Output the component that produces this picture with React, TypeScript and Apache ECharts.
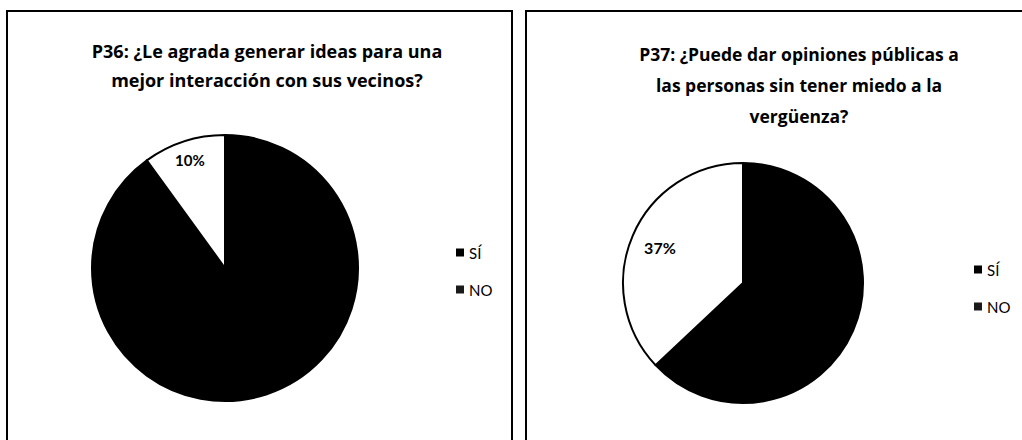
import React, { useEffect, useRef } from "react";
import * as echarts from "echarts";

const categories = ["SÍ", "NO"];
const p36Values = [90, 10];
const p37Values = [63, 37];
const titles = [
  "P36: ¿Le agrada generar ideas para una\nmejor interacción con sus vecinos?",
  "P37: ¿Puede dar opiniones públicas a\nlas personas sin tener miedo a la\nvergüenza?",
];
const sliceColors = ["#000000", "#ffffff"];
const legendIconColors = ["#000000", "#1a1a1a"];

const FONT = "Lato, 'Open Sans', sans-serif";
const TITLE_FONT = "'Open Sans', Lato, sans-serif";

function makeData(values: number[]) {
  return categories.map((name, i) => ({
    name,
    value: values[i],
    itemStyle: { color: sliceColors[i] },
  }));
}

function pieSeries(values: number[], center: number[], r: number, labelR0: number, fontSize: number) {
  const base = makeData(values);
  return [
    {
      type: "pie",
      center,
      radius: [0, r],
      startAngle: 90,
      clockwise: true,
      data: base,
      label: { show: false },
      labelLine: { show: false },
      itemStyle: { borderColor: "#000", borderWidth: 2 },
      emphasis: { disabled: true },
      silent: true,
    },
    {
      type: "pie",
      center,
      radius: [labelR0, r],
      startAngle: 90,
      clockwise: true,
      silent: true,
      emphasis: { disabled: true },
      legendHoverLink: false,
      data: base.map((d, i) => ({
        name: d.name,
        value: d.value,
        itemStyle: { color: "transparent", borderWidth: 0 },
        label: {
          show: i === 1,
          position: "inside",
          rotate: 0,
          formatter: (p: any) => `${Math.round(p.percent)}%`,
          color: "#000",
          fontSize,
          fontWeight: "bold",
          fontFamily: FONT,
        },
      })),
      labelLine: { show: false },
    },
  ];
}

export default function App() {
  const ref = useRef<HTMLDivElement>(null);
  useEffect(() => {
    if (!ref.current) return;
    const chart = echarts.init(ref.current, undefined, { renderer: "svg" });
    const legendCommon = {
      orient: "vertical",
      icon: "rect",
      itemWidth: 8,
      itemHeight: 8,
      itemGap: 22,
      data: categories.map((name, i) => ({
        name,
        itemStyle: { color: legendIconColors[i], borderWidth: 0 },
      })),
      textStyle: { fontSize: 15, color: "#000", fontFamily: FONT },
      selectedMode: false,
    };
    chart.setOption({
      animation: false,
      backgroundColor: "#fff",
      title: [
        {
          text: titles[0],
          left: 262,
          top: 31,
          textAlign: "center",
          textStyle: { fontSize: 18, fontWeight: "bold", color: "#000", lineHeight: 29, fontFamily: TITLE_FONT },
        },
        {
          text: titles[1],
          left: 794,
          top: 33,
          textAlign: "center",
          textStyle: { fontSize: 17.5, fontWeight: "bold", color: "#000", lineHeight: 31, fontFamily: TITLE_FONT },
        },
      ],
      legend: [
        { ...legendCommon, left: 451, top: 240 },
        { ...legendCommon, left: 969, top: 257 },
      ],
      graphic: [
        {
          type: "rect",
          shape: { x: 7, y: 11, width: 505, height: 440 },
          style: { fill: "none", stroke: "#000", lineWidth: 2 },
          silent: true,
        },
        {
          type: "rect",
          shape: { x: 526, y: 11, width: 510, height: 440 },
          style: { fill: "none", stroke: "#000", lineWidth: 2 },
          silent: true,
        },
      ],
      series: [
        ...pieSeries(p36Values, [225, 268], 133, 88, 15),
        ...pieSeries(p37Values, [743, 283], 120, 55, 16),
      ],
    });
    return () => chart.dispose();
  }, []);
  return (
    <div
      ref={ref}
      style={{ position: "absolute", left: 0, top: 0, width: 1022, height: 440 }}
    />
  );
}
